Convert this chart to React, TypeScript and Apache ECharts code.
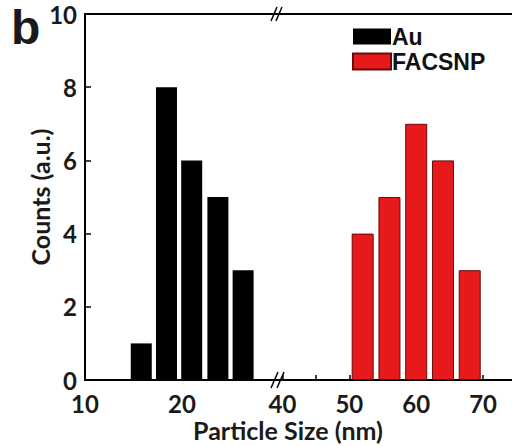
import React, { useEffect, useRef } from "react";
import * as echarts from "echarts";

// Data
const auSizes = [15.8, 18.4, 21.0, 23.7, 26.3];
const auCounts = [1, 8, 6, 5, 3];
const facsnpSizes = [52, 56, 60, 64, 68];
const facsnpCounts = [4, 5, 7, 6, 3];
const leftTicks = [10, 20];
const rightTicks = [40, 50, 60, 70];

const LATO = "Lato, 'Open Sans', sans-serif";
const ARIAL = "'Liberation Sans', Arial, sans-serif";

export default function App() {
  const ref = useRef<HTMLDivElement>(null);
  useEffect(() => {
    if (!ref.current) return;
    const chart = echarts.init(ref.current, null, { renderer: "svg" });
    const axisLine = { show: true, lineStyle: { color: "#000", width: 2 } };
    const tickLabel = {
      fontFamily: LATO,
      fontWeight: "bold" as const,
      fontSize: 24,
      lineHeight: 18,
      color: "#1a1a1a",
    };
    const option: any = {
      animation: false,
      backgroundColor: "#fff",
      grid: [
        { left: 85, top: 14, width: 197.4, height: 366 },
        { left: 282.4, top: 14, width: 229.6, height: 366 },
      ],
      legend: {
        orient: "vertical",
        left: 347,
        top: 20,
        itemWidth: 38,
        itemHeight: 16,
        itemGap: 2,
        icon: "rect",
        textStyle: {
          fontFamily: ARIAL,
          fontWeight: "bold",
          fontSize: 23,
          color: "#111",
          lineHeight: 19,
          padding: [0, 0, 0, -4],
        },
        data: ["Au", "FACSNP"],
      },
      xAxis: [
        {
          type: "value",
          gridIndex: 0,
          min: 10,
          max: 30.35,
          interval: 10,
          axisLine,
          axisTick: { show: false },
          splitLine: { show: false },
          axisLabel: {
            ...tickLabel,
            margin: 14,
            showMaxLabel: false,
            formatter: (v: number) => (leftTicks.includes(v) ? String(v) : ""),
          },
        },
        {
          type: "value",
          gridIndex: 1,
          min: 40,
          max: 74.32,
          interval: 5,
          axisLine,
          axisTick: { show: true, inside: true, length: 5, lineStyle: { color: "#000", width: 1.5 } },
          splitLine: { show: false },
          axisLabel: {
            ...tickLabel,
            margin: 14,
            showMaxLabel: false,
            formatter: (v: number) => (rightTicks.includes(v) ? String(v) : ""),
          },
        },
        {
          type: "value",
          gridIndex: 0,
          position: "top",
          min: 10,
          max: 30.35,
          axisLine,
          axisTick: { show: false },
          axisLabel: { show: false },
          splitLine: { show: false },
        },
        {
          type: "value",
          gridIndex: 1,
          position: "top",
          min: 40,
          max: 74.32,
          axisLine,
          axisTick: { show: false },
          axisLabel: { show: false },
          splitLine: { show: false },
        },
      ],
      yAxis: [
        {
          type: "value",
          gridIndex: 0,
          min: 0,
          max: 10,
          interval: 2,
          axisLine,
          axisTick: { show: true, inside: true, length: 6, lineStyle: { color: "#000", width: 1.5 } },
          splitLine: { show: false },
          axisLabel: { ...tickLabel, margin: 8 },
          name: "Counts (a.u.)",
          nameLocation: "middle",
          nameGap: 33,
          nameMoveOverlap: false,
          nameTextStyle: {
            fontFamily: LATO,
            fontWeight: "bold",
            fontSize: 25,
            color: "#1a1a1a",
          },
        },
        {
          type: "value",
          gridIndex: 1,
          min: 0,
          max: 10,
          show: false,
          splitLine: { show: false },
        },
      ],
      series: [
        {
          name: "Au",
          type: "bar",
          xAxisIndex: 0,
          yAxisIndex: 0,
          barWidth: 21,
          itemStyle: { color: "#000" },
          data: auSizes.map((s, i) => [s, auCounts[i]]),
        },
        {
          name: "FACSNP",
          type: "bar",
          xAxisIndex: 1,
          yAxisIndex: 1,
          barWidth: 22,
          itemStyle: { color: "#e8191b", borderColor: "#6a0a0a", borderWidth: 1 },
          data: facsnpSizes.map((s, i) => [s, facsnpCounts[i]]),
        },
      ],
      graphic: [
        {
          type: "text",
          x: 11,
          y: 27,
          style: {
            text: "b",
            fontFamily: ARIAL,
            fontWeight: "bold",
            fontSize: 48,
            lineHeight: 44,
            fill: "#1a1a1a",
            verticalAlign: "middle",
          },
        },
        {
          type: "text",
          x: 288,
          y: 430,
          style: {
            text: "Particle Size (nm)",
            fontFamily: LATO,
            fontWeight: "bold",
            fontSize: 25,
            fill: "#1a1a1a",
            align: "center",
            verticalAlign: "middle",
          },
        },
        { type: "line", shape: { x1: 271, y1: 21, x2: 277, y2: 7 }, style: { stroke: "#000", lineWidth: 1.5 } },
        { type: "line", shape: { x1: 276, y1: 21, x2: 282, y2: 7 }, style: { stroke: "#000", lineWidth: 1.5 } },
        { type: "line", shape: { x1: 271, y1: 388, x2: 278, y2: 372 }, style: { stroke: "#000", lineWidth: 1.5 } },
        { type: "line", shape: { x1: 277, y1: 388, x2: 284, y2: 372 }, style: { stroke: "#000", lineWidth: 1.5 } },
      ],
    };
    chart.setOption(option);
    return () => chart.dispose();
  }, []);
  return (
    <div
      ref={ref}
      style={{ position: "fixed", left: 0, top: 0, width: 512, height: 446 }}
    />
  );
}
